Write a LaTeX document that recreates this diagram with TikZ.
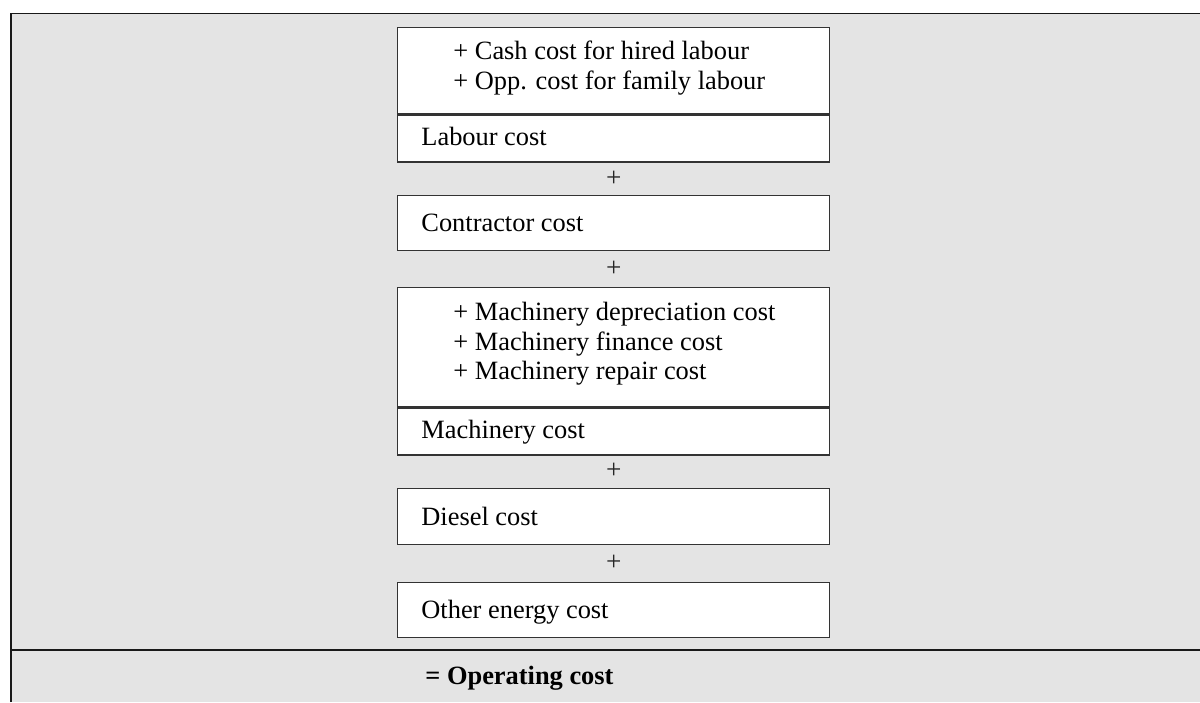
\documentclass[tikz,border=0pt]{standalone}
\usepackage{fontspec}
\setmainfont{Liberation Serif}
\definecolor{panelgrey}{HTML}{E4E4E4}
\definecolor{boxline}{HTML}{333333}
\begin{document}
\begin{tikzpicture}[x=0.5pt,y=-0.5pt,
  frame/.style={draw=black!90, line width=0.8pt},
  costbox/.style={draw=boxline, line width=0.65pt, fill=white, rectangle,
    inner sep=0pt, anchor=north west, minimum width=216.1pt},
  item/.style={inner sep=0pt, anchor=base west, font=\fontsize{13.2}{15}\selectfont},
  total/.style={item, font=\fontsize{13.2}{15}\selectfont\bfseries},
  plus/.style={inner sep=0pt, anchor=center, text=black!85, font=\fontsize{13.6}{15}\selectfont}
]
\useasboundingbox (0,0) rectangle (1200,702);

% grey panel with its top and left rules and the total rule
\fill[panelgrey] (11,13.5) rectangle (1200,702);
\draw[frame] (11,702) -- (11,13.5) -- (1200,13.5);
\draw[frame] (11,650) -- (1200,650);

% labour
\node[costbox, minimum height=43pt] (labdet) at (396.5,27) {};
\node[costbox, minimum height=23.5pt] (lab) at (labdet.south west) {};
\node[item] (t1) at (453,59) {+ Cash cost for hired labour};
\node[item] (t2) at (453,89) {+ Opp. cost for family labour};
\node[item] (t3) at (421,145.5) {Labour cost};

\node[plus] (p1) at (613.7,179) {+};

% contractor
\node[costbox, minimum height=27.5pt] (con) at (396.5,195) {};
\node[item] (t4) at (421,231.5) {Contractor cost};

\node[plus] (p2) at (613.7,269) {+};

% machinery
\node[costbox, minimum height=59.65pt] (machdet) at (396.5,286.7) {};
\node[costbox, minimum height=23.5pt] (mach) at (machdet.south west) {};
\node[item] (t5) at (453,320) {+ Machinery depreciation cost};
\node[item] (t6) at (453,350) {+ Machinery finance cost};
\node[item] (t7) at (453,379) {+ Machinery repair cost};
\node[item] (t8) at (421,438.5) {Machinery cost};

\node[plus] (p3) at (613.7,471) {+};

% diesel
\node[costbox, minimum height=28pt] (dsl) at (396.5,488) {};
\node[item] (t9) at (421,525) {Diesel cost};

\node[plus] (p4) at (613.7,563) {+};

% other energy
\node[costbox, minimum height=27.5pt] (oth) at (396.5,582) {};
\node[item] (t10) at (421,618.5) {Other energy cost};

% result
\node[total] (op) at (425,684) {= Operating cost};
\end{tikzpicture}
\end{document}
